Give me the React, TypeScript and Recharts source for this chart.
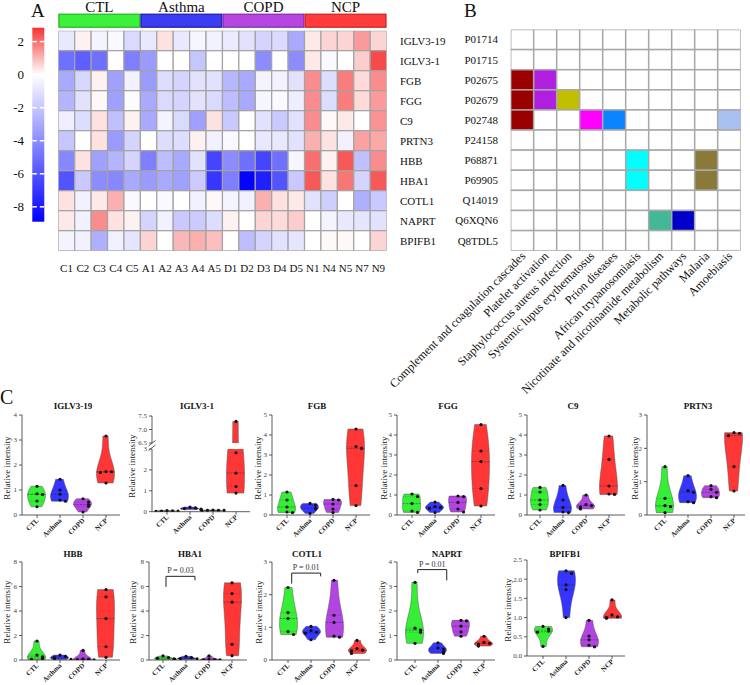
import React from 'react';
import { ScatterChart, ComposedChart, Scatter, Bar, Cell, XAxis, YAxis, ReferenceLine } from 'recharts';

const SERIF = '"Liberation Serif", "Times New Roman", Times, serif';

const GENES = ['IGLV3-19', 'IGLV3-1', 'FGB', 'FGG', 'C9', 'PRTN3', 'HBB', 'HBA1', 'COTL1', 'NAPRT', 'BPIFB1'];
const UNIPROT = ['P01714', 'P01715', 'P02675', 'P02679', 'P02748', 'P24158', 'P68871', 'P69905', 'Q14019', 'Q6XQN6', 'Q8TDL5'];
const SAMPLES = ['C1', 'C2', 'C3', 'C4', 'C5', 'A1', 'A2', 'A3', 'A4', 'A5', 'D1', 'D2', 'D3', 'D4', 'D5', 'N1', 'N4', 'N5', 'N7', 'N9'];
const GROUPS = ['CTL', 'Asthma', 'COPD', 'NCP'];
const GROUP_SIZES = [5, 5, 5, 5];

// heatmap A, one row per protein, one value per sample
const HEAT_IGLV3_19 = [-0.8, 0.2, -0.4, -0.2, -1.3, -0.8, 0.4, -0.8, -0.3, -0.5, -0.7, -1.0, -1.5, -1.3, -3.0, 0.3, 0.6, 0.6, 1.4, 0.6];
const HEAT_IGLV3_1 = [-5.0, -5.6, -5.0, 0, -4.5, -3.5, 0, 0, -2.0, 0, 0, 0, -4.0, 0, -4.0, 0.3, -0.2, 0, 0.7, 2.5];
const HEAT_FGB = [-3.0, -1.4, 0.2, -3.3, -0.5, -3.5, -1.2, -1.5, -1.0, -1.0, -2.5, -3.0, -0.4, -0.5, -1.0, 1.6, -1.2, 1.8, 0.5, 1.6];
const HEAT_FGG = [-2.6, -1.0, 0.1, -3.3, -0.1, -3.0, -1.3, -1.5, -1.0, -1.3, -2.3, -3.0, -0.3, -0.2, -0.6, 1.6, -1.2, 1.8, 0.5, 1.4];
const HEAT_C9 = [-0.6, -1.2, 0.4, -2.2, 0.2, -3.0, -0.4, -1.3, -3.3, 0.4, -1.9, 0, -1.0, -1.9, -1.0, 1.6, 0.1, 0.3, 0, 1.5];
const HEAT_PRTN3 = [-2.0, 0, 0.4, -3.5, -1.5, 0, -1.2, -1.2, 0.2, -0.5, -0.2, 0, -0.8, -0.8, -1.0, 1.1, 0.4, -0.5, 1.3, 1.2];
const HEAT_HBB = [-4.2, 0.4, -3.3, -2.6, -1.5, -4.5, -2.3, -3.0, -1.0, -6.5, -4.0, -5.0, -6.5, -5.0, -0.3, 2.0, 0.2, 2.3, -2.2, 1.6];
const HEAT_HBA1 = [-6.0, -1.9, -4.0, -4.2, -3.0, -3.5, -3.0, -3.3, -1.8, -7.0, -4.5, -8.8, -7.8, -6.0, -1.9, 2.3, 0.4, 1.9, -1.5, 2.3];
const HEAT_COTL1 = [0.4, -0.5, 0.3, 1.1, -0.2, 0, -0.2, 0, -0.5, 0.1, -0.4, -0.5, 1.1, 0.4, 0.3, -1.0, -1.7, 0, -2.8, -1.9];
const HEAT_NAPRT = [0.3, -0.5, 1.6, 0.4, 0.2, -1.5, -0.5, -1.9, -1.8, -1.2, 0.2, 0, 0.6, 0.5, 0.7, 0, -0.4, -0.8, -0.9, -1.0];
const HEAT_BPIFB1 = [-0.4, -0.5, -2.8, -0.5, -0.9, 0.6, 0, 1.0, 1.1, 0.9, 0, -2.3, -1.5, -1.0, -0.9, 0, 0.1, 0.1, 0, 0.6];
const HEAT_ROWS = [HEAT_IGLV3_19, HEAT_IGLV3_1, HEAT_FGB, HEAT_FGG, HEAT_C9, HEAT_PRTN3, HEAT_HBB, HEAT_HBA1, HEAT_COTL1, HEAT_NAPRT, HEAT_BPIFB1];

const LEGEND_TICKS = [2, 0, -2, -4, -6, -8];
const SCALE_MAX = 2.84;
const SCALE_MIN = -8.9;

// panel B
const PATHWAYS = [
  'Complement and coagulation cascades',
  'Platelet activation',
  'Staphylococcus aureus infection',
  'Systemic lupus erythematosus',
  'Prion diseases',
  'African trypanosomiasis',
  'Nicotinate and nicotinamide metabolism',
  'Metabolic pathways',
  'Malaria',
  'Amoebiasis',
];
const PATHWAY_GENES = [['FGB', 'FGG', 'C9'], ['FGB', 'FGG'], ['FGG'], ['C9'], ['C9'], ['HBB', 'HBA1'], ['NAPRT'], ['NAPRT'], ['HBB', 'HBA1'], ['C9']];
const PATHWAY_COLORS = ['#9b0000', '#b01ee0', '#c2be00', '#ff00ff', '#0a84ff', '#00ffff', '#42b898', '#0000c8', '#8a7a3a', '#a9c1f0'];

// panel C, relative intensity per group: CTL, Asthma, COPD, NCP
const V_IGLV3_19 = [[1.15, 0.85, 0.82, 0.56, 0.33], [1.43, 1.0, 0.83, 0.6, 0.55], [0.65, 0.52, 0.42, 0.35, 0.12], [3.16, 1.74, 1.73, 1.7, 1.28]];
const V_IGLV3_1 = [[0.05, 0.04, 0.03, 0.03, 0.02], [0.22, 0.18, 0.15, 0.12, 0.1], [0.08, 0.07, 0.06, 0.06, 0.05], [7.3, 2.82, 1.85, 1.2, 0.89]];
const V_FGB = [[1.15, 0.75, 0.4, 0.15, 0.12], [0.58, 0.5, 0.35, 0.3, 0.08], [0.78, 0.75, 0.55, 0.3, 0.12], [4.3, 3.42, 3.33, 1.47, 0.47]];
const V_FGG = [[1.05, 0.92, 0.57, 0.2, 0.13], [0.65, 0.42, 0.38, 0.33, 0.12], [0.95, 0.92, 0.63, 0.3, 0.15], [4.52, 3.2, 2.67, 1.32, 0.45]];
const V_C9 = [[1.38, 1.15, 0.75, 0.52, 0.25], [1.48, 0.75, 0.38, 0.15, 0.12], [1.0, 0.52, 0.47, 0.4, 0.3], [3.95, 2.78, 1.45, 1.05, 1.03]];
const V_PRTN3 = [[1.45, 0.5, 0.28, 0.25, 0.07], [1.18, 0.73, 0.68, 0.4, 0.37], [0.88, 0.77, 0.68, 0.55, 0.52], [2.47, 2.45, 2.38, 1.45, 0.72]];
const V_HBB = [[1.55, 0.4, 0.25, 0.12, 0.05], [0.4, 0.3, 0.2, 0.12, 0.05], [0.78, 0.1, 0.05, 0.03, 0.02], [5.75, 5.15, 3.38, 1.08, 0.22]];
const V_HBA1 = [[0.33, 0.2, 0.15, 0.1, 0.05], [0.3, 0.2, 0.12, 0.1, 0.05], [0.33, 0.05, 0.03, 0.02, 0.02], [6.3, 5.42, 4.72, 1.28, 0.35]];
const V_COTL1 = [[2.22, 1.45, 1.27, 0.87, 0.78], [1.03, 0.9, 0.85, 0.82, 0.62], [2.44, 1.37, 1.15, 0.73, 0.7], [0.6, 0.35, 0.3, 0.28, 0.2]];
const V_NAPRT = [[3.17, 1.3, 1.22, 1.13, 0.68], [0.7, 0.5, 0.45, 0.34, 0.27], [1.62, 1.6, 1.38, 1.15, 0.97], [0.97, 0.72, 0.68, 0.65, 0.57]];
const V_BPIFB1 = [[0.77, 0.7, 0.65, 0.62, 0.25], [2.22, 2.15, 1.85, 1.73, 1.0], [0.93, 0.52, 0.42, 0.28, 0.24], [1.46, 1.07, 1.02, 1.0, 0.98]];

const GROUP_COLORS = ['#35ee35', '#3535ff', '#b244e2', '#ff3636'];
const HEADER_FILL = ['#3cf03c', '#3c3cf2', '#b646e0', '#ff3c3c'];
const HEADER_STROKE = ['#1fb51f', '#1a1aa8', '#8526ad', '#cc1e1e'];

const A_BOX = { left: 58.3, right: 386.6, top: 30.7, bottom: 250.7 };
const B_BOX = { left: 510.7, right: 740.7, top: 29.5, bottom: 250.7 };

const STEP = 23; // px between violins
const JITTER = [0, 0.24, -0.24, 0.48, -0.48];
const HALF = 9;

type Sig = { from: number; to: number; top: number; leftEnd: number; rightEnd: number; text: string };
type PlotCfg = {
  title?: string;
  vals: number[][];
  x0: number;
  off: number;
  top: number;
  bottom: number;
  domain: [number, number];
  ticks: number[];
  fmt?: (v: number) => string;
  hideX?: boolean;
  titleX?: number;
  titleY?: number;
  labelX?: number;
  labelY?: number;
  sig?: Sig;
};

const dec1 = (v: number) => v.toFixed(1);
const TOP_T = 408.5;
const BOT_T = 556.5;

const PLOTS: PlotCfg[] = [
  { title: 'IGLV3-19', vals: V_IGLV3_19, x0: 22, off: 15, top: 415, bottom: 515, domain: [0, 4], ticks: [0, 1, 2, 3, 4], titleX: 73, titleY: TOP_T, labelX: 8, labelY: 468 },
  { title: 'IGLV3-1', vals: V_IGLV3_1, x0: 152, off: 15, top: 449.3, bottom: 512, domain: [0, 3], ticks: [0, 1, 2, 3], titleX: 197, titleY: TOP_T, labelX: 133, labelY: 466 },
  { vals: V_IGLV3_1, x0: 152, off: 15, top: 415.7, bottom: 442.7, domain: [6.5, 7.5], ticks: [6.5, 7, 7.5], fmt: dec1, hideX: true },
  { title: 'FGB', vals: V_FGB, x0: 272, off: 15, top: 415, bottom: 515, domain: [0, 5], ticks: [0, 1, 2, 3, 4, 5], titleX: 317, titleY: TOP_T, labelX: 259, labelY: 468 },
  { title: 'FGG', vals: V_FGG, x0: 397, off: 15, top: 415, bottom: 515, domain: [0, 5], ticks: [0, 1, 2, 3, 4, 5], titleX: 448, titleY: TOP_T, labelX: 385, labelY: 468 },
  { title: 'C9', vals: V_C9, x0: 527, off: 13, top: 415, bottom: 515, domain: [0, 5], ticks: [0, 1, 2, 3, 4, 5], titleX: 573, titleY: TOP_T, labelX: 512, labelY: 468 },
  { title: 'PRTN3', vals: V_PRTN3, x0: 647, off: 18, top: 415, bottom: 515, domain: [0, 3], ticks: [0, 1, 2, 3], titleX: 698, titleY: TOP_T, labelX: 636, labelY: 468 },
  { title: 'HBB', vals: V_HBB, x0: 22, off: 15, top: 562, bottom: 660, domain: [0, 8], ticks: [0, 2, 4, 6, 8], titleX: 73, titleY: BOT_T, labelX: 8, labelY: 612 },
  {
    title: 'HBA1', vals: V_HBA1, x0: 149, off: 14, top: 562, bottom: 660, domain: [0, 8], ticks: [0, 2, 4, 6, 8], titleX: 190, titleY: BOT_T, labelX: 134, labelY: 612,
    sig: { from: 0.13, to: 1.39, top: 6.83, leftEnd: 5.97, rightEnd: 6.51, text: 'P = 0.03' },
  },
  {
    title: 'COTL1', vals: V_COTL1, x0: 272, off: 16, top: 562, bottom: 660, domain: [0, 3], ticks: [0, 1, 2, 3], titleX: 307, titleY: BOT_T, labelX: 260, labelY: 612,
    sig: { from: 0.16, to: 1.42, top: 2.66, leftEnd: 2.34, rightEnd: 2.56, text: 'P = 0.01' },
  },
  {
    title: 'NAPRT', vals: V_NAPRT, x0: 397, off: 18, top: 562, bottom: 660, domain: [0, 4], ticks: [0, 1, 2, 3, 4], titleX: 447, titleY: BOT_T, labelX: 383, labelY: 612,
    sig: { from: 0.12, to: 1.38, top: 3.69, leftEnd: 3.55, rightEnd: 3.25, text: 'P = 0.01' },
  },
  { title: 'BPIFB1', vals: V_BPIFB1, x0: 527, off: 16, top: 560, bottom: 656, domain: [0, 2.5], ticks: [0, 0.5, 1, 1.5, 2, 2.5], fmt: dec1, titleX: 565, titleY: BOT_T, labelX: 509, labelY: 610 },
];

const heatColor = (v: number) => {
  if (v >= 0) {
    const t = Math.min(1, v / SCALE_MAX);
    return `rgb(${Math.round(255 - 10 * t)},${Math.round(255 - 205 * t)},${Math.round(255 - 205 * t)})`;
  }
  const t = Math.min(1, v / SCALE_MIN);
  return `rgb(${Math.round(255 * (1 - t))},${Math.round(255 * (1 - t))},255)`;
};

function HeatmapA() {
  const cw = (A_BOX.right - A_BOX.left) / SAMPLES.length;
  const ch = (A_BOX.bottom - A_BOX.top) / GENES.length;
  const cells = HEAT_ROWS.flatMap((row, r) => row.map((v, c) => ({ c, r, v })));
  const W = 460;
  const H = 282;
  return (
    <div style={{ position: 'absolute', left: 0, top: 0 }}>
      <ScatterChart width={W} height={H} margin={{ top: A_BOX.top, left: A_BOX.left, right: 0, bottom: 0 }}>
        <XAxis
          type="number"
          dataKey="c"
          domain={[-0.5, SAMPLES.length - 0.5]}
          allowDataOverflow
          ticks={SAMPLES.map((_, i) => i)}
          interval={0}
          tickFormatter={(i: number) => SAMPLES[i]}
          axisLine={false}
          tickLine={false}
          tickSize={0}
          tickMargin={13}
          height={H - A_BOX.bottom}
          tick={{ fontSize: 11, fill: '#111', fontFamily: SERIF }}
        />
        <YAxis
          type="number"
          dataKey="r"
          orientation="right"
          reversed
          domain={[-0.5, GENES.length - 0.5]}
          allowDataOverflow
          ticks={GENES.map((_, i) => i)}
          interval={0}
          tickFormatter={(i: number) => GENES[i]}
          axisLine={false}
          tickLine={false}
          tickSize={0}
          tickMargin={13.4}
          width={W - A_BOX.right}
          tick={{ fontSize: 11, fill: '#111', fontFamily: SERIF }}
        />
        <Scatter
          data={cells}
          isAnimationActive={false}
          shape={(p: any) => (
            <rect x={p.cx - cw / 2} y={p.cy - ch / 2} width={cw} height={ch} fill={heatColor(p.payload.v)} stroke="#a3a3a3" strokeWidth={1.2} />
          )}
        />
      </ScatterChart>
    </div>
  );
}

function PathwayGrid() {
  const cw = (B_BOX.right - B_BOX.left) / PATHWAYS.length;
  const ch = (B_BOX.bottom - B_BOX.top) / GENES.length;
  const cells = PATHWAYS.flatMap((_, c) =>
    GENES.map((g, r) => ({ c, r, color: PATHWAY_GENES[c].includes(g) ? PATHWAY_COLORS[c] : '#ffffff' }))
  );
  const L = 385;
  const W = 365;
  const H = 398;
  return (
    <div style={{ position: 'absolute', left: L, top: 0 }}>
      <ScatterChart width={W} height={H} margin={{ top: B_BOX.top, left: 0, right: L + W - B_BOX.right, bottom: 0 }}>
        <XAxis
          type="number"
          dataKey="c"
          domain={[-0.5, PATHWAYS.length - 0.5]}
          allowDataOverflow
          ticks={PATHWAYS.map((_, i) => i)}
          interval={0}
          axisLine={false}
          tickLine={false}
          tickSize={0}
          tickMargin={5}
          height={H - B_BOX.bottom}
          tick={(p: any) => (
            <text
              x={p.x + 4}
              y={p.y + 1}
              transform={`rotate(-45 ${p.x + 4} ${p.y + 1})`}
              textAnchor="end"
              fontSize={12}
              fontFamily={SERIF}
              fill="#111"
            >
              {PATHWAYS[p.payload.value]}
            </text>
          )}
        />
        <YAxis
          type="number"
          dataKey="r"
          reversed
          domain={[-0.5, GENES.length - 0.5]}
          allowDataOverflow
          ticks={GENES.map((_, i) => i)}
          interval={0}
          tickFormatter={(i: number) => UNIPROT[i]}
          axisLine={false}
          tickLine={false}
          tickSize={0}
          tickMargin={12.7}
          width={B_BOX.left - L}
          tick={{ fontSize: 11, fill: '#111', fontFamily: SERIF }}
        />
        <Scatter
          data={cells}
          isAnimationActive={false}
          shape={(p: any) => (
            <rect x={p.cx - cw / 2} y={p.cy - ch / 2} width={cw} height={ch} fill={p.payload.color} stroke="#a8a8a8" strokeWidth={1.5} />
          )}
        />
      </ScatterChart>
    </div>
  );
}

const ViolinShape = (p: any) => {
  const vals: number[] = p.payload.vals;
  const lo = Math.min(...vals);
  const hi = Math.max(...vals);
  const yA = Math.min(p.y, p.y + p.height);
  const yB = Math.max(p.y, p.y + p.height);
  const cx = p.x + p.width / 2;
  if (!(hi > lo)) return <line x1={cx - HALF} x2={cx + HALF} y1={yB} y2={yB} stroke={p.fill} />;
  const px = (v: number) => yB - ((v - lo) / (hi - lo)) * (yB - yA);
  const n = vals.length;
  const mean = vals.reduce((s, v) => s + v, 0) / n;
  const sd = Math.sqrt(vals.reduce((s, v) => s + (v - mean) ** 2, 0) / (n - 1));
  const bw = Math.max(1.06 * sd * Math.pow(n, -0.2), (hi - lo) * 0.08);
  const dens = (t: number) => vals.reduce((s, v) => s + Math.exp(-0.5 * ((t - v) / bw) ** 2), 0);
  const K = 60;
  const levels = Array.from({ length: K + 1 }, (_, k) => lo + ((hi - lo) * k) / K);
  const d = levels.map(dens);
  const dMax = Math.max(...d);
  const w = (t: number) => (HALF * dens(t)) / dMax;
  const right = levels.map((t, k) => `${(cx + (HALF * d[k]) / dMax).toFixed(2)},${px(t).toFixed(2)}`);
  const left = levels
    .map((t, k) => `${(cx - (HALF * d[k]) / dMax).toFixed(2)},${px(t).toFixed(2)}`)
    .reverse();
  const path = `M${right.join('L')}L${left.join('L')}Z`;
  const sorted = [...vals].sort((a, b) => a - b);
  const q = (f: number) => {
    const pos = (n - 1) * f;
    const i = Math.floor(pos);
    return sorted[i] + (sorted[Math.min(i + 1, n - 1)] - sorted[i]) * (pos - i);
  };
  return (
    <g>
      <path d={path} fill={p.fill} stroke="#555" strokeWidth={0.5} />
      {[0.25, 0.5, 0.75].map((f) => {
        const t = q(f);
        return (
          <line
            key={f}
            x1={cx - w(t)}
            x2={cx + w(t)}
            y1={px(t)}
            y2={px(t)}
            stroke="#222"
            strokeOpacity={f === 0.5 ? 0.75 : 0.4}
            strokeWidth={0.6}
            strokeDasharray={f === 0.5 ? '2 1.2' : '1 1.2'}
          />
        );
      })}
    </g>
  );
};

const DotShape = (p: any) => <circle cx={p.cx + p.payload.j * STEP} cy={p.cy} r={1.6} fill="#111" />;

const GroupTick = (p: any) => (
  <text
    x={p.x + 2}
    y={p.y + 3}
    transform={`rotate(-45 ${p.x + 2} ${p.y + 3})`}
    textAnchor="end"
    fontSize={7}
    fontWeight="bold"
    fontFamily={SERIF}
    fill="#222"
  >
    {GROUPS[p.payload.value]}
  </text>
);

function ViolinPlot({ cfg }: { cfg: PlotCfg }) {
  const AXIS_W = 32;
  const PLOT_W = 98;
  const padTop = 6;
  const padBottom = cfg.hideX ? 6 : 34;
  const lo = -cfg.off / STEP;
  const hi = (PLOT_W - cfg.off) / STEP;
  const rows = cfg.vals.map((v, i) => ({ x: i, range: [Math.min(...v), Math.max(...v)], vals: v }));
  const span = cfg.domain[1] - cfg.domain[0];
  const pts: { x: number; y: number; j: number }[] = [];
  cfg.vals.forEach((v, i) => {
    const placed: number[] = [];
    v.forEach((y) => {
      if (y < cfg.domain[0] || y > cfg.domain[1]) return;
      const ties = placed.filter((t) => Math.abs(t - y) < span * 0.035).length;
      placed.push(y);
      pts.push({ x: i, y, j: JITTER[Math.min(ties, JITTER.length - 1)] });
    });
  });
  const s = cfg.sig;
  const W = AXIS_W + PLOT_W + 6;
  const H = cfg.bottom - cfg.top + padTop + padBottom;
  return (
    <div style={{ position: 'absolute', left: cfg.x0 - AXIS_W, top: cfg.top - padTop }}>
      <ComposedChart width={W} height={H} data={rows} margin={{ top: padTop, right: 6, left: 0, bottom: cfg.hideX ? padBottom : 0 }}>
        <XAxis
          type="number"
          dataKey="x"
          domain={[lo, hi]}
          allowDataOverflow
          ticks={[0, 1, 2, 3]}
          interval={0}
          hide={cfg.hideX}
          height={padBottom}
          tickSize={3}
          tickMargin={0}
          tick={GroupTick}
          stroke="#333"
          strokeWidth={0.8}
        />
        <YAxis
          type="number"
          dataKey="y"
          domain={cfg.domain}
          allowDataOverflow
          ticks={cfg.ticks}
          interval={0}
          width={AXIS_W}
          tickSize={3}
          tickMargin={2}
          tickFormatter={cfg.fmt}
          tick={{ fontSize: 7, fill: '#444', fontFamily: SERIF }}
          stroke="#333"
          strokeWidth={0.8}
        />
        <Bar dataKey="range" barSize={18} shape={ViolinShape} isAnimationActive={false}>
          {rows.map((_, i) => (
            <Cell key={i} fill={GROUP_COLORS[i]} />
          ))}
        </Bar>
        <Scatter data={pts} dataKey="y" shape={DotShape} isAnimationActive={false} />
        {s && (
          <ReferenceLine
            segment={[{ x: s.from, y: s.top }, { x: s.to, y: s.top }]}
            stroke="#222"
            strokeWidth={1}
            label={{ value: s.text, position: 'top', offset: 3, fontSize: 8, fill: '#333', fontFamily: SERIF }}
          />
        )}
        {s && <ReferenceLine segment={[{ x: s.from, y: s.top }, { x: s.from, y: s.leftEnd }]} stroke="#222" strokeWidth={1} />}
        {s && <ReferenceLine segment={[{ x: s.to, y: s.top }, { x: s.to, y: s.rightEnd }]} stroke="#222" strokeWidth={1} />}
      </ComposedChart>
    </div>
  );
}

function Overlay() {
  const cw = (A_BOX.right - A_BOX.left) / SAMPLES.length;
  let start = 0;
  const headers = GROUPS.map((g, i) => {
    const x1 = A_BOX.left + start * cw;
    start += GROUP_SIZES[i];
    const x2 = A_BOX.left + start * cw;
    return { g, i, x1, x2 };
  });
  const LEG = { x: 32.3, w: 12, top: 27.7, bottom: 221.7 };
  const legY = (v: number) => LEG.top + ((SCALE_MAX - v) / (SCALE_MAX - SCALE_MIN)) * (LEG.bottom - LEG.top);
  const zeroAt = SCALE_MAX / (SCALE_MAX - SCALE_MIN);
  return (
    <svg width={750} height={685} style={{ position: 'absolute', left: 0, top: 0, pointerEvents: 'none', fontFamily: SERIF }}>
      <defs>
        <linearGradient id="heatScale" x1="0" y1="0" x2="0" y2="1">
          <stop offset="0" stopColor="rgb(245,50,50)" />
          <stop offset={zeroAt} stopColor="#ffffff" />
          <stop offset="1" stopColor="rgb(0,0,255)" />
        </linearGradient>
      </defs>
      <text x={31} y={17} fontSize={19} fill="#111">A</text>
      <text x={464} y={17} fontSize={19} fill="#111">B</text>
      <text x={0} y={404} fontSize={20} fill="#111">C</text>

      {headers.map((h) => (
        <g key={h.g}>
          <rect x={h.x1 + 0.6} y={14.2} width={h.x2 - h.x1 - 1.2} height={13} fill={HEADER_FILL[h.i]} stroke={HEADER_STROKE[h.i]} strokeWidth={1.2} />
          <text x={(h.x1 + h.x2) / 2} y={11.5} fontSize={15} textAnchor="middle" fill="#111">
            {h.g}
          </text>
        </g>
      ))}

      <rect x={LEG.x} y={LEG.top} width={LEG.w} height={LEG.bottom - LEG.top} fill="url(#heatScale)" />
      {LEGEND_TICKS.map((t) => (
        <g key={t}>
          <line x1={LEG.x} x2={LEG.x + 4.5} y1={legY(t)} y2={legY(t)} stroke="#fff" strokeWidth={1.5} />
          <line x1={LEG.x + LEG.w - 4.5} x2={LEG.x + LEG.w} y1={legY(t)} y2={legY(t)} stroke="#fff" strokeWidth={1.5} />
          <text x={24} y={legY(t) + 4.5} fontSize={13} textAnchor="end" fill="#111">
            {t}
          </text>
        </g>
      ))}

      {PLOTS.filter((c) => c.title).map((c) => (
        <g key={c.title}>
          <text x={c.titleX} y={c.titleY} fontSize={9} fontWeight="bold" textAnchor="middle" fill="#111">
            {c.title}
          </text>
          <text
            x={c.labelX}
            y={c.labelY}
            transform={`rotate(-90 ${c.labelX} ${c.labelY})`}
            fontSize={9}
            textAnchor="middle"
            dominantBaseline="middle"
            fill="#222"
          >
            Relative intensity
          </text>
        </g>
      ))}
      <line x1={148.5} y1={446} x2={155.5} y2={440.5} stroke="#333" strokeWidth={0.8} />
      <line x1={148.5} y1={450.5} x2={155.5} y2={445} stroke="#333" strokeWidth={0.8} />
    </svg>
  );
}

export default function App() {
  return (
    <div style={{ position: 'absolute', left: 0, top: 0, width: 750, height: 685, overflow: 'hidden', background: '#fff', fontFamily: SERIF }}>
      <HeatmapA />
      <PathwayGrid />
      {PLOTS.map((cfg, i) => (
        <ViolinPlot key={i} cfg={cfg} />
      ))}
      <Overlay />
    </div>
  );
}
